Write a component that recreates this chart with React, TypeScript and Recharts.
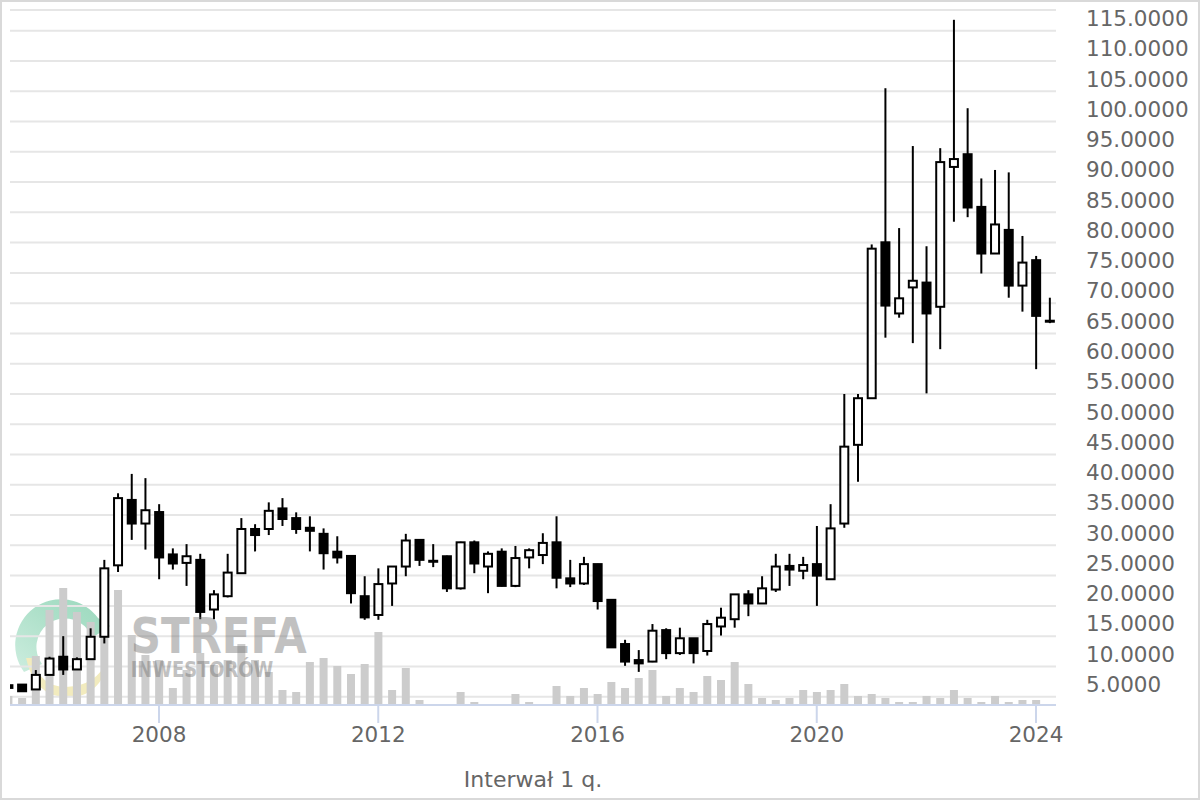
import React from 'react';
import { ComposedChart, Bar, XAxis, YAxis, CartesianGrid, Label } from 'recharts';

// Quarterly candles, 2005 Q2 .. 2024 Q2
const quarters = [
  '2005-Q2', '2005-Q3', '2005-Q4',
  '2006-Q1', '2006-Q2', '2006-Q3', '2006-Q4',
  '2007-Q1', '2007-Q2', '2007-Q3', '2007-Q4',
  '2008-Q1', '2008-Q2', '2008-Q3', '2008-Q4',
  '2009-Q1', '2009-Q2', '2009-Q3', '2009-Q4',
  '2010-Q1', '2010-Q2', '2010-Q3', '2010-Q4',
  '2011-Q1', '2011-Q2', '2011-Q3', '2011-Q4',
  '2012-Q1', '2012-Q2', '2012-Q3', '2012-Q4',
  '2013-Q1', '2013-Q2', '2013-Q3', '2013-Q4',
  '2014-Q1', '2014-Q2', '2014-Q3', '2014-Q4',
  '2015-Q1', '2015-Q2', '2015-Q3', '2015-Q4',
  '2016-Q1', '2016-Q2', '2016-Q3', '2016-Q4',
  '2017-Q1', '2017-Q2', '2017-Q3', '2017-Q4',
  '2018-Q1', '2018-Q2', '2018-Q3', '2018-Q4',
  '2019-Q1', '2019-Q2', '2019-Q3', '2019-Q4',
  '2020-Q1', '2020-Q2', '2020-Q3', '2020-Q4',
  '2021-Q1', '2021-Q2', '2021-Q3', '2021-Q4',
  '2022-Q1', '2022-Q2', '2022-Q3', '2022-Q4',
  '2023-Q1', '2023-Q2', '2023-Q3', '2023-Q4',
  '2024-Q1', '2024-Q2',
];

const opens = [
  6.9, 7.0, 6.2, 8.6, 11.6, 9.5, 11.2, 14.9, 26.7, 37.5,
  33.6, 35.5, 28.5, 27.1, 27.6, 19.4, 21.6, 25.4, 32.7, 32.7,
  36.1, 34.5, 32.9, 31.9, 28.95, 28.25, 21.6, 18.5, 23.7, 26.5,
  30.9, 27.45, 28.2, 22.9, 30.5, 26.5, 28.95, 23.3, 28.0, 28.4,
  30.5, 24.55, 23.7, 26.9, 21.0, 13.7, 11.05, 10.8, 16.0, 12.2,
  14.65, 12.55, 16.6, 17.8, 21.9, 20.4, 22.7, 26.6, 25.8, 26.9,
  24.4, 33.6, 46.6, 54.3, 80.05, 68.3, 72.6, 73.4, 69.4, 92.5,
  94.6, 85.9, 78.2, 82.1, 72.9, 77.1, 67.1,
];

const highs = [
  6.95, 7.05, 9.4, 11.6, 15.0, 11.5, 16.3, 27.6, 38.6, 41.8,
  41.1, 36.8, 29.5, 30.2, 28.6, 22.6, 28.6, 34.5, 33.5, 37.1,
  37.8, 35.45, 34.8, 32.8, 31.5, 28.3, 24.9, 26.2, 26.55, 31.9,
  30.95, 30.2, 28.3, 30.6, 30.8, 29.0, 29.5, 29.9, 29.5, 32.0,
  34.8, 27.6, 28.1, 26.95, 21.05, 14.4, 12.7, 17.0, 16.3, 16.4,
  14.7, 17.7, 19.7, 21.95, 22.6, 24.9, 28.6, 28.6, 28.1, 33.2,
  36.8, 55.0, 55.0, 79.7, 105.5, 82.4, 95.95, 79.4, 95.6, 116.8,
  102.2, 90.6, 92.0, 91.6, 81.1, 77.8, 70.9,
];

const lows = [
  6.4, 5.85, 6.2, 8.55, 8.6, 9.45, 11.1, 13.8, 25.6, 30.9,
  29.3, 24.4, 26.0, 23.3, 17.8, 17.8, 21.4, 25.3, 29.0, 31.7,
  33.2, 31.9, 29.0, 26.0, 27.0, 20.4, 17.7, 17.7, 20.0, 24.9,
  26.6, 26.4, 22.3, 22.7, 25.4, 22.1, 23.2, 23.1, 26.2, 26.9,
  22.9, 23.1, 23.45, 19.4, 13.1, 10.1, 9.1, 10.7, 11.2, 11.9,
  10.5, 11.8, 15.1, 16.4, 18.3, 20.35, 22.3, 23.3, 24.4, 20.0,
  24.35, 32.9, 40.5, 54.2, 64.3, 67.6, 63.4, 55.1, 62.4, 83.45,
  84.2, 74.9, 78.15, 70.9, 68.6, 59.1, 66.7,
];

const closes = [
  6.45, 5.9, 8.6, 11.3, 9.5, 11.2, 14.9, 26.2, 37.8, 33.6,
  35.8, 28.0, 27.0, 28.2, 19.0, 21.9, 25.5, 32.7, 31.7, 35.7,
  34.35, 32.7, 32.4, 28.7, 28.0, 22.1, 18.1, 23.6, 26.5, 30.8,
  27.6, 27.3, 22.9, 30.5, 27.0, 28.6, 23.3, 27.9, 29.2, 30.4,
  24.65, 23.7, 26.9, 20.8, 13.15, 10.8, 10.5, 15.9, 12.2, 14.65,
  12.2, 17.0, 18.05, 21.9, 20.4, 22.9, 26.5, 26.0, 26.75, 25.0,
  32.8, 46.3, 54.3, 79.0, 69.6, 70.8, 73.7, 68.3, 93.3, 93.8,
  85.8, 78.2, 83.0, 72.9, 76.7, 67.9, 67.0,
];

// Relative volume per quarter (arbitrary units)
const volumes = [
  9, 7, 49, 95, 117, 93, 83, 77, 115, 70,
  50, 45, 17, 35, 52, 40, 45, 61, 45, 33,
  15, 13, 43, 47, 39, 31, 41, 73, 15, 37,
  5, 0, 0, 13, 3, 0, 0, 11, 3, 0,
  19, 9, 17, 11, 23, 17, 27, 35, 9, 17,
  13, 29, 25, 43, 21, 7, 5, 7, 15, 13,
  15, 21, 9, 11, 7, 3, 3, 9, 7, 15,
  7, 3, 9, 3, 5, 5, 0,
];

const priceTicks = [5, 10, 15, 20, 25, 30, 35, 40, 45, 50, 55, 60, 65, 70, 75, 80, 85, 90, 95, 100, 105, 110, 115];
const yearTicks = [2008, 2012, 2016, 2020, 2024];
const intervalLabel = 'Interwał 1 q.';

const data = quarters.map((q, i) => {
  const [yr, qq] = q.split('-Q');
  return {
    t: Number(yr) + (Number(qq) - 1) / 4,
    o: opens[i],
    h: highs[i],
    l: lows[i],
    c: closes[i],
    v: volumes[i],
  };
});

const FONT = '"DejaVu Sans", Verdana, sans-serif';
const TEXT = '#666666';

const Candle = (props: any) => {
  const { x, y, width, height, payload } = props;
  if (!payload || x == null || y == null) return null;
  const { o, h, l, c } = payload;
  const yTop = Math.min(y, y + height);
  const yBot = Math.max(y, y + height);
  const span = h - l;
  const pix = (v: number) => (span === 0 ? yTop : yTop + ((h - v) / span) * (yBot - yTop));
  const cx = x + width / 2;
  const yo = pix(o);
  const yc = pix(c);
  const bt = Math.min(yo, yc);
  const bb = Math.max(yo, yc);
  const up = c > o;
  return (
    <g>
      <line x1={cx} x2={cx} y1={yTop} y2={yBot} stroke="#000" strokeWidth={2} />
      <rect
        x={cx - 4}
        y={bt}
        width={8}
        height={Math.max(bb - bt, 1)}
        fill={up ? '#ffffff' : '#000000'}
        stroke="#000"
        strokeWidth={2}
      />
    </g>
  );
};

const PriceTick = (props: any) => {
  const { x, y, payload } = props;
  return (
    <text x={x} y={y - 4.7} fill={TEXT} fontSize={21.5} fontFamily={FONT} textAnchor="start">
      {Number(payload.value).toFixed(4)}
    </text>
  );
};

const YearTick = (props: any) => {
  const { x, y, payload } = props;
  return (
    <text x={x} y={y + 19} fill={TEXT} fontSize={21.5} fontFamily={FONT} textAnchor="middle">
      {payload.value}
    </text>
  );
};

const IntervalLabel = (p: any) => {
  const vb = p.viewBox || { x: 10, y: 705, width: 1046, height: 95 };
  return (
    <text x={vb.x + vb.width / 2} y={vb.y + 82.3} fill={TEXT} fontSize={22} fontFamily={FONT} textAnchor="middle">
      {intervalLabel}
    </text>
  );
};

// Logo swirl drawn behind the chart
const WatermarkLogo = () => (
  <svg width={1200} height={800} style={{ position: 'absolute', left: 0, top: 0 }}>
    <defs>
      <linearGradient id="wmGreen" x1="0" y1="1" x2="1" y2="0">
        <stop offset="0%" stopColor="#cdeddf" />
        <stop offset="55%" stopColor="#ade0c9" />
        <stop offset="100%" stopColor="#9ad8bd" />
      </linearGradient>
    </defs>
    <path
      d="M 24 672 A 45 45 0 0 1 98 618 L 110 626 L 95 636 L 88 630 A 27 27 0 0 0 42 664 Z"
      fill="url(#wmGreen)"
    />
    <path
      d="M 26 658 Q 36 704 80 696 Q 104 688 108 660 Q 96 686 66 687 Q 40 687 32 658 Z"
      fill="#f2ebbe"
    />
  </svg>
);

// Watermark text drawn over the series, semi-transparent
const WatermarkText = () => (
  <svg width={1200} height={800} style={{ position: 'absolute', left: 0, top: 0, pointerEvents: 'none' }}>
    <g fill="#6e6e6e" opacity={0.42} fontFamily='"DejaVu Sans", sans-serif' fontWeight="bold">
      <text x={130.7} y={653.3} fontSize={50} textLength={176} lengthAdjust="spacingAndGlyphs">STREFA</text>
      <text x={130.7} y={677.3} fontSize={21} textLength={142.6} lengthAdjust="spacingAndGlyphs">INWESTORÓW</text>
    </g>
  </svg>
);

export default function App() {
  return (
    <div style={{ position: 'absolute', left: 0, top: 0, width: 1200, height: 800, background: '#ffffff', overflow: 'hidden' }}>
      <WatermarkLogo />
      <div style={{ position: 'absolute', left: 0, top: 0 }}>
        <ComposedChart width={1200} height={800} data={data} margin={{ top: 10, right: 0, bottom: 0, left: 10 }}>
          <CartesianGrid xAxisId="main" yAxisId="price" vertical={false} stroke="#e6e6e6" strokeWidth={2} />
          <XAxis
            xAxisId="main"
            dataKey="t"
            type="number"
            domain={[2005.2817, 2024.3649]}
            allowDataOverflow
            ticks={yearTicks}
            interval={0}
            height={95}
            tickSize={18}
            tickMargin={0}
            axisLine={{ stroke: '#ccd6eb', strokeWidth: 2 }}
            tickLine={{ stroke: '#ccd6eb', strokeWidth: 2 }}
            tick={<YearTick />}
          >
            <Label content={<IntervalLabel />} />
          </XAxis>
          <XAxis
            xAxisId="vol"
            dataKey="t"
            type="number"
            domain={[2005.2817, 2024.3649]}
            allowDataOverflow
            hide
            height={0}
          />
          <YAxis
            yAxisId="price"
            orientation="right"
            type="number"
            domain={[3.63, 118.42]}
            allowDataOverflow
            ticks={priceTicks}
            interval={0}
            width={144}
            tickSize={0}
            tickMargin={30}
            axisLine={false}
            tickLine={false}
            tick={<PriceTick />}
          />
          <YAxis yAxisId="vol" type="number" domain={[0, 695]} allowDataOverflow hide width={0} />
          <Bar
            xAxisId="vol"
            yAxisId="vol"
            dataKey="v"
            fill="#cccccc"
            barSize={8}
            isAnimationActive={false}
          />
          <Bar
            xAxisId="main"
            yAxisId="price"
            dataKey={(d: any) => [d.l, d.h]}
            barSize={10}
            shape={<Candle />}
            isAnimationActive={false}
          />
        </ComposedChart>
      </div>
      <WatermarkText />
      <div style={{ position: 'absolute', left: 0, top: 0, width: 1200, height: 800, border: '2px solid #d9d9d9', boxSizing: 'border-box', pointerEvents: 'none' }} />
    </div>
  );
}
